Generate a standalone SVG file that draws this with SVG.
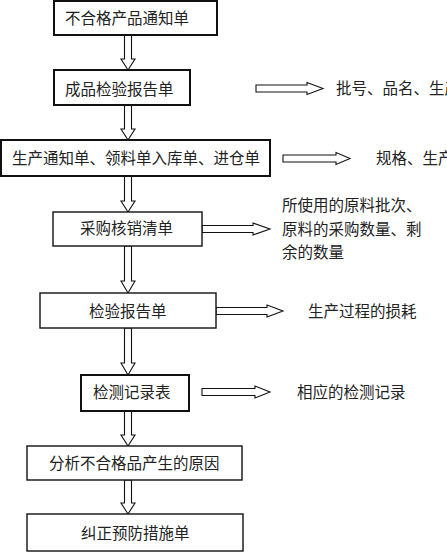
<svg xmlns="http://www.w3.org/2000/svg" width="447" height="552" viewBox="0 0 447 552">
<style>
.bx{fill:#fff;stroke:#111}
.thick{stroke-width:2}
.thin{stroke-width:1.4}
.ar{fill:#fff;stroke:#111;stroke-width:1.1;stroke-linejoin:miter}
text{font-family:"Noto Sans CJK SC","Noto Sans CJK JP",sans-serif;font-size:15.5px;fill:#222}
</style>
<rect width="447" height="552" fill="#fff"/>
<g id="connectors">
<path class="ar" d="M124.5 35 L124.5 59 L121 59 L128 70 L135 59 L131.5 59 L131.5 35 Z"/>
<path class="ar" d="M124.5 105 L124.5 129 L121 129 L128 140 L135 129 L131.5 129 L131.5 105 Z"/>
<path class="ar" d="M124.5 176 L124.5 201 L121 201 L128 212 L135 201 L131.5 201 L131.5 176 Z"/>
<path class="ar" d="M124.5 246 L124.5 281 L121 281 L128 293 L135 281 L131.5 281 L131.5 246 Z"/>
<path class="ar" d="M124.5 328 L124.5 363 L121 363 L128 375 L135 363 L131.5 363 L131.5 328 Z"/>
<path class="ar" d="M124.5 411 L124.5 435 L121 435 L128 446 L135 435 L131.5 435 L131.5 411 Z"/>
<path class="ar" d="M124.5 480 L124.5 503 L121 503 L128 514 L135 503 L131.5 503 L131.5 480 Z"/>
<path class="ar" d="M256 85 L307 85 L307 82.5 L323 88.5 L307 94.5 L307 92 L256 92 Z"/>
<path class="ar" d="M283 155 L336 155 L336 152.5 L350 158.5 L336 164.5 L336 162 L283 162 Z"/>
<path class="ar" d="M202 225.5 L253 225.5 L253 223 L270 229 L253 235 L253 232.5 L202 232.5 Z"/>
<path class="ar" d="M216 307.5 L267 307.5 L267 305 L283 311 L267 317 L267 314.5 L216 314.5 Z"/>
<path class="ar" d="M202 388.5 L255 388.5 L255 386 L270 392 L255 398 L255 395.5 L202 395.5 Z"/>
</g>
<g id="n1"><rect class="bx thick" x="54" y="1" width="163" height="34"/><text x="65" y="24">不合格产品通知单</text></g>
<g id="n2"><rect class="bx thick" x="54" y="70" width="136" height="35"/><text x="65" y="95">成品检验报告单</text></g>
<g id="n3"><rect class="bx thick" x="1" y="140" width="269" height="36"/><text x="12" y="164">生产通知单、领料单入库单、进仓单</text></g>
<g id="n4"><rect class="bx thin" x="53" y="212" width="149" height="34"/><text x="80" y="234">采购核销清单</text></g>
<g id="n5"><rect class="bx thin" x="40" y="293" width="176" height="35"/><text x="89" y="317">检验报告单</text></g>
<g id="n6"><rect class="bx thick" x="81" y="375" width="108" height="36"/><text x="93" y="398">检测记录表</text></g>
<g id="n7"><rect class="bx thin" x="27" y="446" width="215" height="34"/><text x="49" y="469">分析不合格品产生的原因</text></g>
<g id="n8"><rect class="bx thin" x="27" y="514" width="216" height="37"/><text x="81" y="539">纠正预防措施单</text></g>
<g id="labels">
<text x="336" y="94">批号、品名、生产</text>
<text x="376" y="164">规格、生产</text>
<text x="282" y="211">所使用的原料批次、</text>
<text x="282" y="235">原料的采购数量、剩</text>
<text x="282" y="258">余的数量</text>
<text x="308" y="317">生产过程的损耗</text>
<text x="297" y="398">相应的检测记录</text>
</g>
</svg>
